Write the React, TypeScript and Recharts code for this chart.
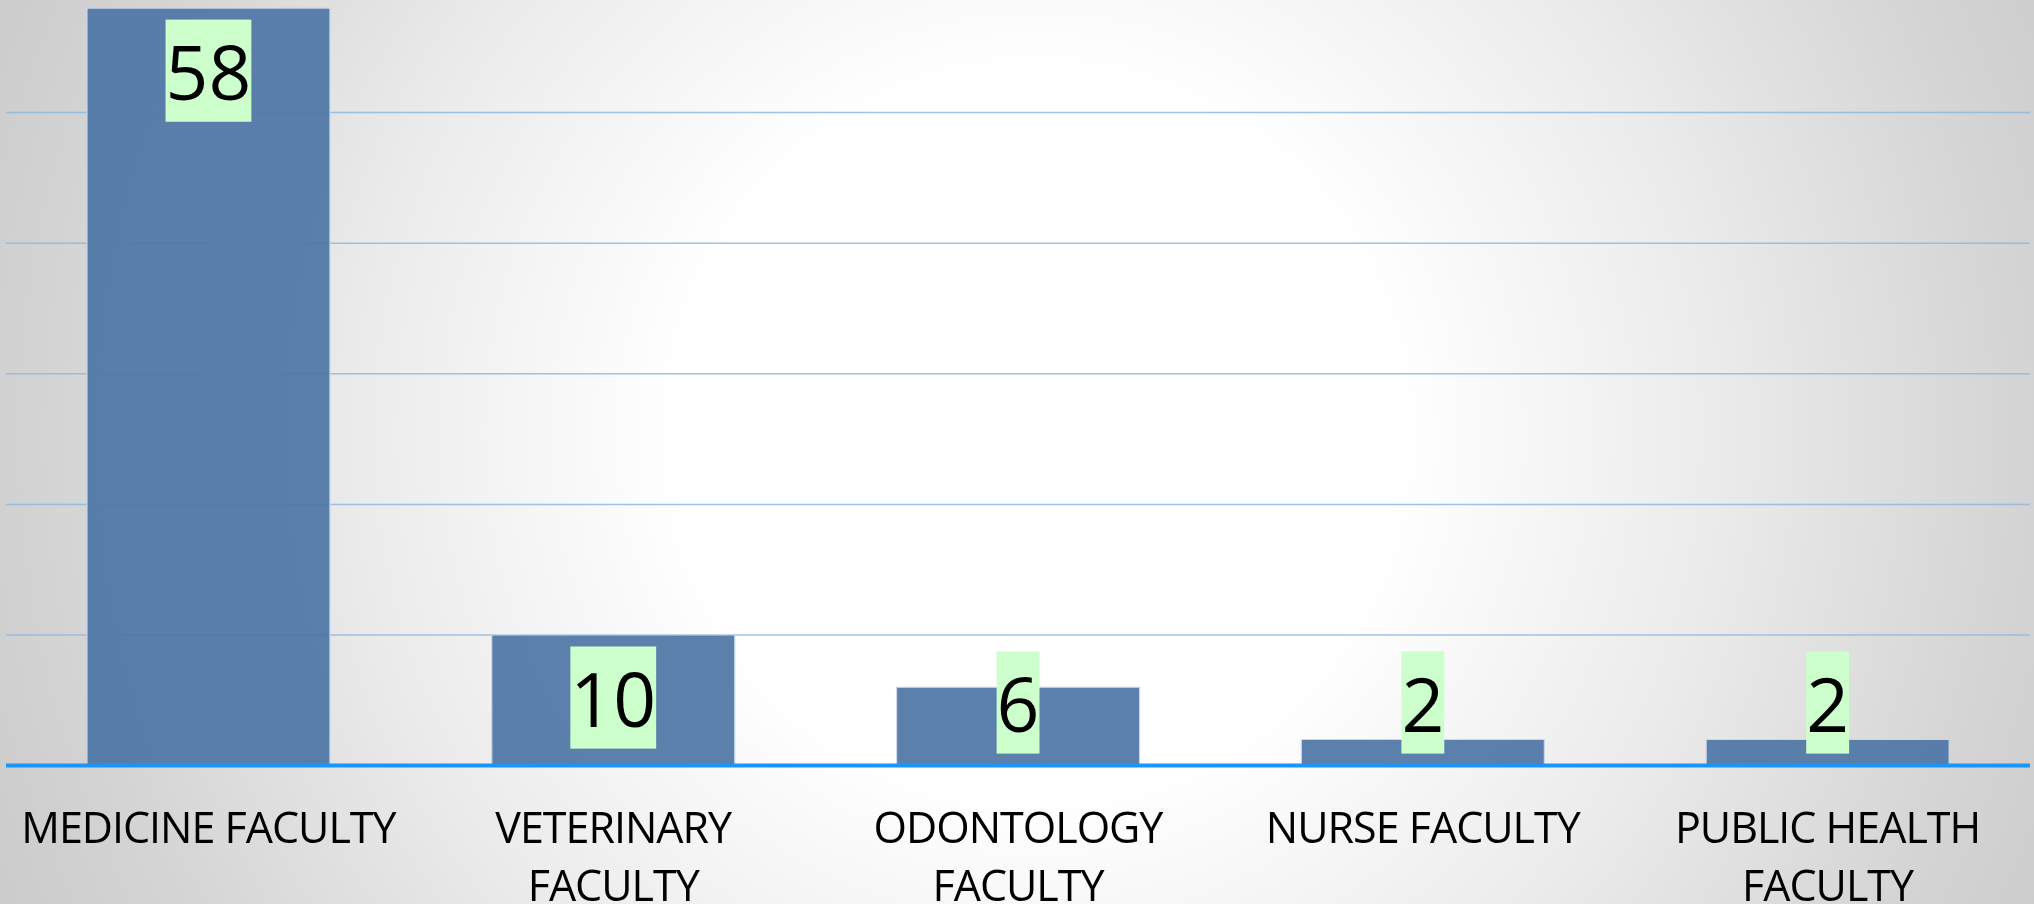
import React from 'react';
import { BarChart, Bar, XAxis, YAxis, CartesianGrid, LabelList } from 'recharts';

const faculties = ['MEDICINE FACULTY', 'VETERINARY FACULTY', 'ODONTOLOGY FACULTY', 'NURSE FACULTY', 'PUBLIC HEALTH FACULTY'];
const counts = [58, 10, 6, 2, 2];
const gridTicks = [10, 20, 30, 40, 50];
const Y_MAX = 58.62;

const data = faculties.map((name, i) => ({ name, count: counts[i] }));

const FONT = '"Open Sans", sans-serif';
const LABEL_SIZE = 75;

// split long category names on words, ~16 chars per line
const wrapLabel = (s: string, max = 16) => {
  const lines: string[] = [];
  let cur = '';
  s.split(' ').forEach((w) => {
    const next = cur ? `${cur} ${w}` : w;
    if (next.length > max && cur) {
      lines.push(cur);
      cur = w;
    } else {
      cur = next;
    }
  });
  if (cur) lines.push(cur);
  return lines;
};

const FacultyTick = (props: any) => {
  const { x, y, payload } = props;
  const lines = wrapLabel(String(payload.value));
  return (
    <text
      x={x}
      y={y}
      textAnchor="middle"
      fill="#000"
      fontFamily={FONT}
      fontSize={43}
      letterSpacing={-1}
    >
      {lines.map((line, i) => (
        <tspan key={line} x={x} dy={i === 0 ? 77.5 : 58}>
          {line}
        </tspan>
      ))}
    </text>
  );
};

const ValueLabel = (props: any) => {
  const { x, y, width, height, value } = props;
  const boxH = LABEL_SIZE * 1.362;
  const boxW = String(value).length * LABEL_SIZE * 0.572;
  const cx = x + width / 2;
  const top = Math.min(y + 11.5, y + height - 12 - boxH);
  return (
    <g>
      <rect x={cx - boxW / 2} y={top} width={boxW} height={boxH} fill="#ccffcc" />
      <text
        x={cx}
        y={top + LABEL_SIZE * 1.069}
        textAnchor="middle"
        fill="#000"
        fontFamily={FONT}
        fontSize={LABEL_SIZE}
      >
        {value}
      </text>
    </g>
  );
};

// grid rows at the value ticks only (no line at the top edge)
const gridRows = ({ offset }: any) =>
  gridTicks.map((t) => offset.top + offset.height * (1 - t / Y_MAX));

export default function App() {
  return (
    <div
      style={{
        position: 'fixed',
        left: 0,
        top: 0,
        width: 2034,
        height: 904,
        overflow: 'hidden',
        background:
          'radial-gradient(circle at 51% 48%, #ffffff 0px, #ffffff 360px, #ebebeb 680px, #d4d4d4 980px, #c8c8c8 1200px)',
      }}
    >
      <BarChart
        width={2034}
        height={904}
        data={data}
        margin={{ top: 0, right: 4, bottom: 0, left: 6 }}
        barCategoryGap="20%"
      >
        <CartesianGrid
          vertical={false}
          stroke="#8fb8dd"
          strokeOpacity={0.85}
          strokeWidth={1.5}
          horizontalCoordinatesGenerator={gridRows}
        />
        <YAxis hide domain={[0, Y_MAX]} ticks={gridTicks} />
        <XAxis
          dataKey="name"
          height={138.4}
          interval={0}
          tickLine={false}
          tickSize={0}
          tickMargin={0}
          axisLine={{ stroke: '#1b95fa', strokeWidth: 4 }}
          tick={<FacultyTick />}
        />
        <Bar
          dataKey="count"
          fill="#4f76a5"
          fillOpacity={0.93}
          stroke="#cbd8ea"
          strokeWidth={1.2}
          isAnimationActive={false}
        >
          <LabelList dataKey="count" content={<ValueLabel />} />
        </Bar>
      </BarChart>
    </div>
  );
}
